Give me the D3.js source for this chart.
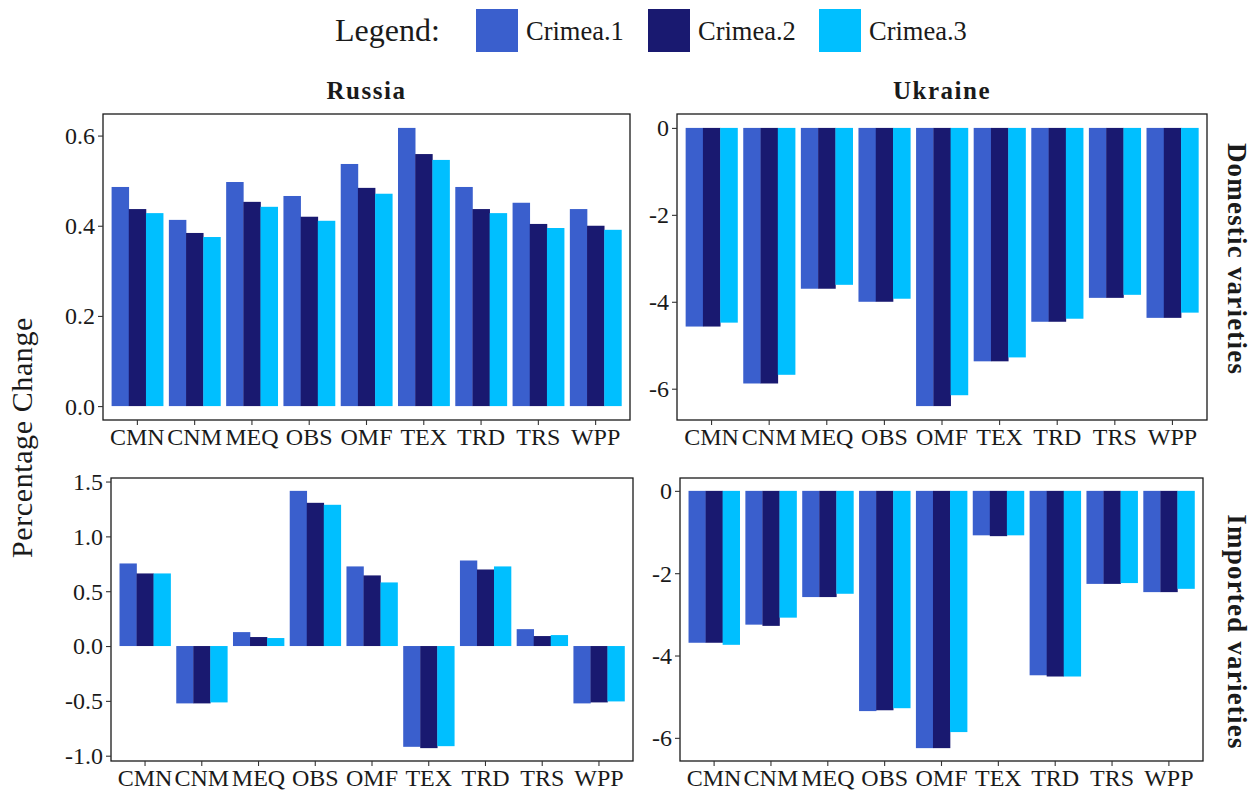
<!DOCTYPE html>
<html>
<head>
<meta charset="utf-8">
<script src="https://cdn.jsdelivr.net/npm/d3@7"></script>
<style>
  html, body { margin: 0; padding: 0; background: #fff; }
  svg { display: block; }
  text { font-family: "Liberation Serif", "DejaVu Serif", serif; fill: #1a1a1a; }
</style>
</head>
<body>
<svg id="chart" width="1260" height="796"></svg>
<script>
// ---------------- data ----------------
const categories = ["CMN", "CNM", "MEQ", "OBS", "OMF", "TEX", "TRD", "TRS", "WPP"];
const seriesNames = ["Crimea.1", "Crimea.2", "Crimea.3"];
const seriesColors = ["#3A5FCD", "#191970", "#00BFFF"];

// Russia – Domestic varieties
const russiaDomestic1 = [0.486, 0.413, 0.497, 0.466, 0.537, 0.617, 0.486, 0.451, 0.437];
const russiaDomestic2 = [0.437, 0.384, 0.453, 0.420, 0.484, 0.559, 0.437, 0.404, 0.400];
const russiaDomestic3 = [0.428, 0.375, 0.442, 0.411, 0.471, 0.546, 0.428, 0.395, 0.391];
// Ukraine – Domestic varieties
const ukraineDomestic1 = [-4.57, -5.88, -3.70, -4.00, -6.40, -5.37, -4.46, -3.91, -4.37];
const ukraineDomestic2 = [-4.57, -5.88, -3.70, -4.00, -6.40, -5.37, -4.46, -3.91, -4.37];
const ukraineDomestic3 = [-4.48, -5.68, -3.61, -3.93, -6.15, -5.28, -4.39, -3.84, -4.25];
// Russia – Imported varieties
const russiaImported1 = [0.753, -0.523, 0.127, 1.415, 0.726, -0.919, 0.780, 0.154, -0.523];
const russiaImported2 = [0.662, -0.523, 0.082, 1.306, 0.644, -0.931, 0.698, 0.091, -0.514];
const russiaImported3 = [0.662, -0.514, 0.073, 1.288, 0.580, -0.913, 0.726, 0.100, -0.505];
// Ukraine – Imported varieties
const ukraineImported1 = [-3.69, -3.25, -2.58, -5.35, -6.25, -1.08, -4.48, -2.26, -2.46];
const ukraineImported2 = [-3.69, -3.28, -2.58, -5.33, -6.25, -1.10, -4.51, -2.26, -2.46];
const ukraineImported3 = [-3.74, -3.08, -2.50, -5.28, -5.86, -1.08, -4.51, -2.24, -2.38];

// tick values / labels
const ticksRussiaDomestic = [0.0, 0.2, 0.4, 0.6];
const tickLabelsRussiaDomestic = ["0.0", "0.2", "0.4", "0.6"];
const ticksUkraineDomestic = [-6, -4, -2, 0];
const tickLabelsUkraineDomestic = ["-6", "-4", "-2", "0"];
const ticksRussiaImported = [-1.0, -0.5, 0.0, 0.5, 1.0, 1.5];
const tickLabelsRussiaImported = ["-1.0", "-0.5", "0.0", "0.5", "1.0", "1.5"];
const ticksUkraineImported = [-6, -4, -2, 0];
const tickLabelsUkraineImported = ["-6", "-4", "-2", "0"];

const columnTitles = ["Russia", "Ukraine"];
const rowTitles = ["Domestic varieties", "Imported varieties"];
const yAxisTitle = "Percentage Change";
const legendTitle = "Legend:";

// ---------------- layout ----------------
const svg = d3.select("#chart");
const TICK_FONT = 24;

const panels = [
  { series: [russiaDomestic1, russiaDomestic2, russiaDomestic3], ticks: ticksRussiaDomestic, labels: tickLabelsRussiaDomestic,
    box: { x0: 103, x1: 630, y0: 114, y1: 420 } },
  { series: [ukraineDomestic1, ukraineDomestic2, ukraineDomestic3], ticks: ticksUkraineDomestic, labels: tickLabelsUkraineDomestic,
    box: { x0: 677, x1: 1207, y0: 114, y1: 420 } },
  { series: [russiaImported1, russiaImported2, russiaImported3], ticks: ticksRussiaImported, labels: tickLabelsRussiaImported,
    box: { x0: 111, x1: 633, y0: 478, y1: 761 } },
  { series: [ukraineImported1, ukraineImported2, ukraineImported3], ticks: ticksUkraineImported, labels: tickLabelsUkraineImported,
    box: { x0: 680, x1: 1203, y0: 478, y1: 761 } }
];

panels.forEach(p => {
  const b = p.box;
  const g = svg.append("g");
  const all = p.series.flat().concat([0]);
  const lo = d3.min(all), hi = d3.max(all);
  const pad = (hi - lo) * 0.05;
  const y = d3.scaleLinear().domain([lo - pad, hi + pad]).range([b.y1, b.y0]);
  const x = d3.scaleBand().domain(categories).range([b.x0, b.x1]).paddingInner(0.1).paddingOuter(0.15);
  const xs = d3.scaleBand().domain(d3.range(seriesNames.length)).range([0, x.bandwidth()]);

  // bars
  p.series.forEach((vals, si) => {
    g.append("g").selectAll("rect").data(vals).join("rect")
      .attr("x", (d, i) => x(categories[i]) + xs(si))
      .attr("width", xs.bandwidth() + 0.3)
      .attr("y", d => Math.min(y(d), y(0)))
      .attr("height", d => Math.abs(y(d) - y(0)))
      .attr("fill", seriesColors[si]);
  });

  // border
  g.append("rect").attr("x", b.x0).attr("y", b.y0).attr("width", b.x1 - b.x0).attr("height", b.y1 - b.y0)
    .attr("fill", "none").attr("stroke", "#1a1a1a").attr("stroke-width", 1.3);

  // y axis
  const ya = d3.axisLeft(y).tickValues(p.ticks).tickSize(5).tickPadding(3)
    .tickFormat((d, i) => p.labels[i]);
  const yg = g.append("g").attr("transform", `translate(${b.x0},0)`).call(ya);
  yg.select(".domain").remove();
  yg.selectAll(".tick line").attr("stroke", "#333").attr("stroke-width", 1.1);
  yg.selectAll(".tick text").attr("font-size", TICK_FONT).attr("fill", "#1a1a1a")
    .attr("font-family", "Liberation Serif, serif").attr("dy", "0.33em");

  // x axis
  const xa = d3.axisBottom(x).tickSize(5).tickPadding(3);
  const xg = g.append("g").attr("transform", `translate(0,${b.y1})`).call(xa);
  xg.select(".domain").remove();
  xg.selectAll(".tick line").attr("stroke", "#333").attr("stroke-width", 1.1);
  xg.selectAll(".tick text").attr("font-size", TICK_FONT).attr("fill", "#1a1a1a")
    .attr("font-family", "Liberation Serif, serif");
});

// column strip titles
svg.append("text").attr("x", (103 + 630) / 2).attr("y", 99).attr("text-anchor", "middle")
  .attr("font-size", 25).attr("font-weight", "bold").attr("letter-spacing", 1.5).text(columnTitles[0]);
svg.append("text").attr("x", (677 + 1207) / 2).attr("y", 99).attr("text-anchor", "middle")
  .attr("font-size", 25).attr("font-weight", "bold").attr("letter-spacing", 1.5).text(columnTitles[1]);

// row strip titles (right side)
svg.append("text").attr("transform", `translate(1228,259) rotate(90)`)
  .attr("text-anchor", "middle").attr("font-size", 27).attr("font-weight", "bold")
  .attr("letter-spacing", 1.2).text(rowTitles[0]);
svg.append("text").attr("transform", `translate(1228,632) rotate(90)`)
  .attr("text-anchor", "middle").attr("font-size", 27).attr("font-weight", "bold")
  .attr("letter-spacing", 1.2).text(rowTitles[1]);

// y axis title
svg.append("text").attr("transform", `translate(32,${(114 + 761) / 2}) rotate(-90)`)
  .attr("text-anchor", "middle").attr("font-size", 30).attr("letter-spacing", 0.6).text(yAxisTitle);

// legend
const lg = svg.append("g");
lg.append("text").attr("x", 335).attr("y", 41).attr("font-size", 32).text(legendTitle);
const keyX = [476, 648, 819];
seriesNames.forEach((s, i) => {
  lg.append("rect").attr("x", keyX[i]).attr("y", 9).attr("width", 42).attr("height", 43)
    .attr("fill", seriesColors[i]);
  lg.append("text").attr("x", keyX[i] + 50).attr("y", 40).attr("font-size", 26.5).text(s);
});
</script>
</body>
</html>
